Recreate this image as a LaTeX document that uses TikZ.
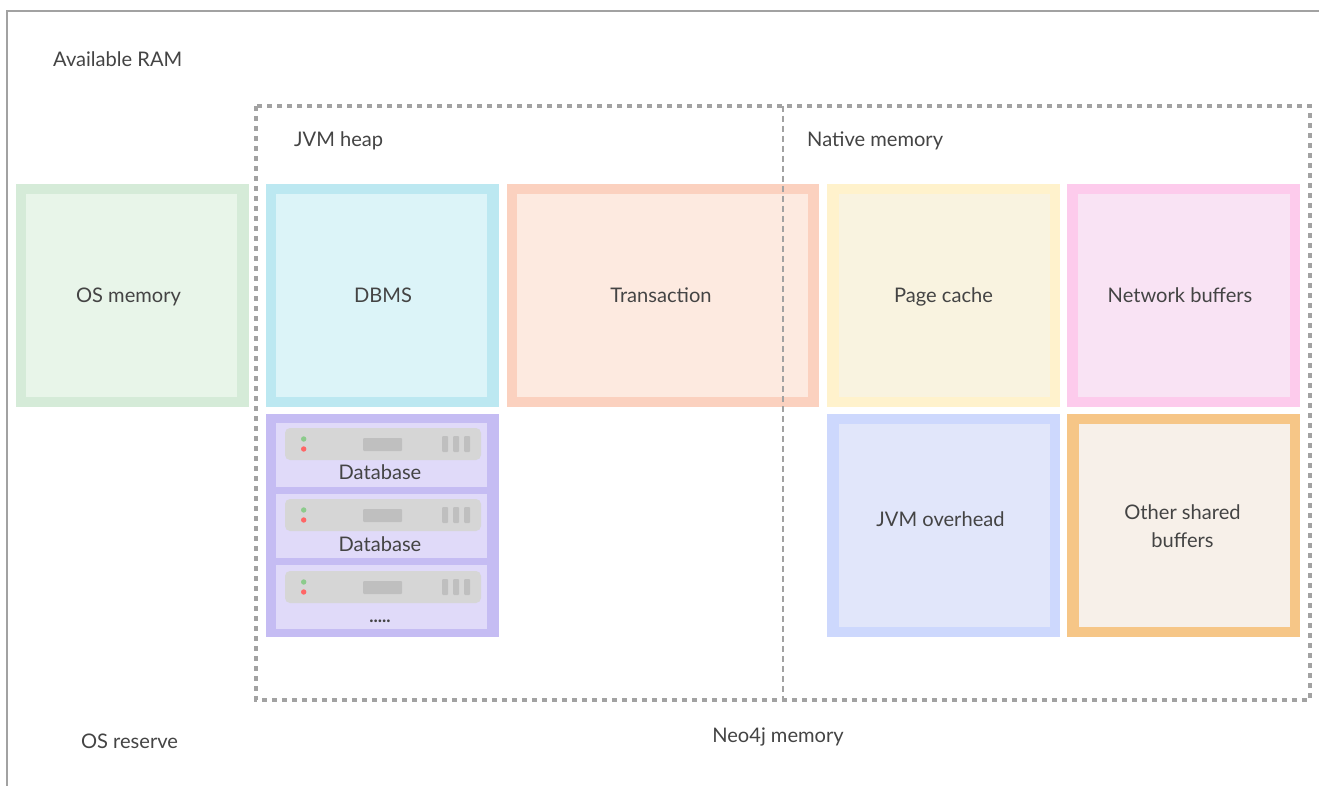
\documentclass[tikz,border=0pt]{standalone}
\usepackage{fontspec}
\setmainfont{Lato}
\definecolor{ink}{HTML}{444444}
\definecolor{framegray}{HTML}{A2A2A2}
\definecolor{purpin}{HTML}{E0DAF9}
\tikzset{
  lbl/.style={text=ink,font=\fontsize{20.1}{28}\selectfont,inner sep=0pt,align=center,anchor=base},
  lblw/.style={lbl,anchor=base west},
  serverbody/.style={fill=black!16,rounded corners=5pt},
  serverpart/.style={fill=black!25,rounded corners=1pt}
}
\newcommand{\serverrow}[2]{% top of row, top of server
  \fill[purpin] (276,#1) rectangle (487,#1+64);
  \fill[serverbody] (285,#2) rectangle (481,#2+32);
  \fill[green!55!black!45] (303.7,#2+11) circle (2.7);
  \fill[red!60!white] (303.7,#2+21) circle (2.7);
  \fill[serverpart] (363,#2+10) rectangle (402,#2+23);
  \fill[serverpart] (442,#2+8) rectangle (448,#2+24);
  \fill[serverpart] (453,#2+8) rectangle (459,#2+24);
  \fill[serverpart] (464,#2+8) rectangle (470,#2+24);}
\begin{document}
\begin{tikzpicture}[x=1pt,y=-1pt]
\useasboundingbox (0,0) rectangle (1319,786);
\fill[white] (0,0) rectangle (1319,786);
% outer frame
\draw[framegray,line width=1.6pt] (7,786) -- (7,11) -- (1319,11);
% cells
\fill[color={rgb,255:red,213;green,235;blue,216}] (16,184) rectangle (249,407);
\fill[color={rgb,255:red,232;green,245;blue,233}] (26,194) rectangle (237,397);
\fill[color={rgb,255:red,188;green,232;blue,241}] (266,184) rectangle (499,407);
\fill[color={rgb,255:red,220;green,244;blue,248}] (276,194) rectangle (487,397);
\fill[color={rgb,255:red,251;green,209;blue,191}] (507,184) rectangle (819,407);
\fill[color={rgb,255:red,253;green,234;blue,224}] (517,194) rectangle (808,397);
\fill[color={rgb,255:red,255;green,242;blue,204}] (827,184) rectangle (1060,407);
\fill[color={rgb,255:red,249;green,243;blue,224}] (839,194) rectangle (1050,397);
\fill[color={rgb,255:red,253;green,203;blue,236}] (1067,184) rectangle (1300,407);
\fill[color={rgb,255:red,249;green,227;blue,244}] (1078,194) rectangle (1290,397);
\fill[color={rgb,255:red,205;green,216;blue,253}] (827,414) rectangle (1060,637);
\fill[color={rgb,255:red,225;green,230;blue,250}] (839,424) rectangle (1050,627);
\fill[color={rgb,255:red,246;green,198;blue,135}] (1067,414) rectangle (1300,637);
\fill[color={rgb,255:red,247;green,240;blue,233}] (1079,424) rectangle (1290,627);
\fill[color={rgb,255:red,197;green,188;blue,243}] (266,414) rectangle (499,637);
\serverrow{423}{428}
\serverrow{494}{499}
\serverrow{565}{571}
% dashed groups
\draw[framegray,line width=3.5pt,dash pattern=on 5pt off 5pt] (256,106) rectangle (1310,700);
\draw[framegray,line width=1.5pt,dash pattern=on 6pt off 4pt] (783,106) -- (783,700);
% labels
\node[lblw] (ram) at (53,67) {Available RAM};
\node[lblw] (heap) at (294,147) {JVM heap};
\node[lblw] (native) at (807,147) {Native memory};
\node[lbl] (os) at (128.5,302) {OS memory};
\node[lbl] (dbms) at (383,302) {DBMS};
\node[lbl] (tx) at (661,302) {Transaction};
\node[lbl] (page) at (943.5,302) {Page cache};
\node[lbl] (net) at (1180,302) {Network buffers};
\node[lbl] (jvmo) at (940.5,526) {JVM overhead};
\node[lbl] (other) at (1182.5,547) {Other shared\\buffers};
\node[lbl] (db1) at (380,479) {Database};
\node[lbl] (db2) at (380,551) {Database};
\node[lbl,font=\fontsize{18}{28}\selectfont\bfseries] (db3) at (380,622) {.....};
\node[lbl] (res) at (129.5,748) {OS reserve};
\node[lbl] (neo) at (778,742) {Neo4j memory};
\end{tikzpicture}
\end{document}
